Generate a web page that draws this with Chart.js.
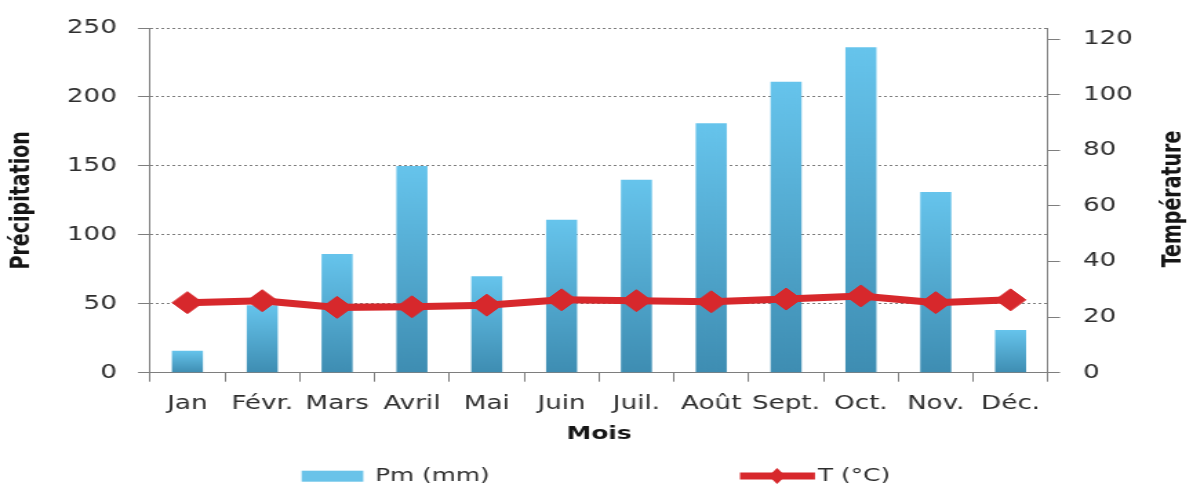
<!DOCTYPE html>
<html>
<head>
<meta charset="utf-8">
<script src="https://cdn.jsdelivr.net/npm/chart.js@4.4.1/dist/chart.umd.min.js"></script>
<style>
  html, body { margin: 0; padding: 0; background: #ffffff; overflow: hidden; }
  #wrap { position: absolute; left: 0; top: 0; width: 865px; height: 486px; transform: scaleX(1.3792); transform-origin: 0 0; }
</style>
</head>
<body>
<div id="wrap"><canvas id="c"></canvas></div>
<script>
const categories = ['Jan', 'Févr.', 'Mars', 'Avril', 'Mai', 'Juin', 'Juil.', 'Août', 'Sept.', 'Oct.', 'Nov.', 'Déc.'];
const precipitation = [16, 49, 86, 150, 70, 111, 140, 181, 211, 236, 131, 31];
const temperature = [25.2, 25.9, 23.5, 23.7, 24.3, 26.2, 25.9, 25.5, 26.5, 27.6, 25.2, 26.2];
const precipTicks = [0, 50, 100, 150, 200, 250];
const tempTicks = [0, 20, 40, 60, 80, 100, 120];
const seriesLabels = ['Pm (mm)', 'T (°C)'];
const axisTitles = { x: 'Mois', y: 'Précipitation', y1: 'Température' };

const FONT = '"DejaVu Sans", Verdana, sans-serif';
const TICK_COLOR = '#2e2e2e';
const GRID_COLOR = '#7e7e7e';
const BAR_TOP = '#66c4ec';
const BAR_BOTTOM = '#3e8db2';
const RED = '#d7282c';

function barFill(ctx) {
  const chart = ctx.chart;
  if (!chart.chartArea || ctx.type !== 'data') return BAR_TOP;
  const y = chart.scales.y;
  const top = y.getPixelForValue(ctx.raw);
  const bottom = y.getPixelForValue(0);
  if (!isFinite(top) || !isFinite(bottom) || top === bottom) return BAR_TOP;
  const g = chart.ctx.createLinearGradient(0, top, 0, bottom);
  g.addColorStop(0, BAR_TOP);
  g.addColorStop(1, BAR_BOTTOM);
  return g;
}

const extras = {
  id: 'extras',
  afterDraw(chart) {
    const c = chart.ctx;
    // right axis title (reads bottom-to-top like the left one)
    c.save();
    c.translate(851.2, 199);
    c.rotate(-Math.PI / 2);
    c.font = 'bold 19px ' + FONT;
    c.fillStyle = '#151515';
    c.textAlign = 'center';
    c.textBaseline = 'middle';
    c.fillText(axisTitles.y1, 0, 0);
    c.restore();

    // legend
    c.save();
    c.font = '18px ' + FONT;
    c.textBaseline = 'middle';
    c.textAlign = 'left';
    const ly = 476;
    c.fillStyle = '#6ac3e9';
    c.fillRect(218.7, 470.7, 44.7, 11);
    c.fillStyle = TICK_COLOR;
    c.fillText(chart.data.datasets[0].label, 271.9, ly);

    c.strokeStyle = RED;
    c.lineWidth = 7;
    c.beginPath();
    c.moveTo(536.5, ly);
    c.lineTo(590.9, ly);
    c.stroke();
    c.fillStyle = RED;
    c.beginPath();
    c.moveTo(563.4, ly - 8);
    c.lineTo(569.5, ly);
    c.lineTo(563.4, ly + 8);
    c.lineTo(557.3, ly);
    c.closePath();
    c.fill();
    c.fillStyle = TICK_COLOR;
    c.fillText(chart.data.datasets[1].label, 593.1, ly);
    c.restore();
  }
};

new Chart(document.getElementById('c'), {
  type: 'bar',
  data: {
    labels: categories,
    datasets: [
      {
        type: 'bar',
        label: seriesLabels[0],
        data: precipitation,
        yAxisID: 'y',
        backgroundColor: barFill,
        borderWidth: 0,
        categoryPercentage: 0.415,
        barPercentage: 1,
        order: 1
      },
      {
        type: 'line',
        label: seriesLabels[1],
        data: temperature,
        yAxisID: 'y1',
        borderColor: RED,
        backgroundColor: RED,
        borderWidth: 7,
        pointStyle: 'rectRot',
        pointRadius: 11,
        pointBorderWidth: 1,
        pointBackgroundColor: RED,
        pointBorderColor: RED,
        tension: 0,
        fill: false,
        order: 0
      }
    ]
  },
  options: {
    responsive: true,
    maintainAspectRatio: false,
    animation: false,
    events: [],
    layout: { padding: { top: 24, bottom: 36, left: 0, right: 0 } },
    plugins: {
      legend: { display: false },
      tooltip: { enabled: false }
    },
    scales: {
      x: {
        offset: true,
        grid: { display: true, drawOnChartArea: false, drawTicks: true, tickLength: 9, color: GRID_COLOR, offset: true },
        border: { display: true, color: GRID_COLOR, dash: [2, 2] },
        ticks: { color: TICK_COLOR, font: { family: FONT, size: 19 }, padding: 11, maxRotation: 0, autoSkip: false },
        title: { display: true, text: axisTitles.x, color: '#151515', font: { family: FONT, size: 18, weight: 'bold' }, padding: { top: 0, bottom: 5 } },
        afterFit(s) { s.height = 77.3; }
      },
      y: {
        position: 'left',
        min: 0,
        max: 250,
        afterBuildTicks(s) { s.ticks = precipTicks.map(v => ({ value: v })); },
        grid: { display: true, drawOnChartArea: true, drawTicks: true, tickLength: 8.7, color: GRID_COLOR },
        border: { display: true, color: GRID_COLOR, dash: [2, 2] },
        ticks: { color: TICK_COLOR, font: { family: FONT, size: 19 }, padding: 15.3 },
        title: { display: true, text: axisTitles.y, color: '#151515', font: { family: FONT, size: 19, weight: 'bold' }, padding: { top: 5, bottom: 0 } },
        afterFit(s) { s.width = 108.76; }
      },
      y1: {
        position: 'right',
        min: 0,
        max: 124,
        afterBuildTicks(s) { s.ticks = tempTicks.map(v => ({ value: v })); },
        grid: { display: true, drawOnChartArea: false, drawTicks: true, tickLength: 8.7, color: GRID_COLOR },
        border: { display: true, color: GRID_COLOR, dash: [2, 2] },
        ticks: { color: TICK_COLOR, font: { family: FONT, size: 19 }, padding: 16.6 },
        title: { display: false },
        afterFit(s) { s.width = 105.14; }
      }
    }
  },
  plugins: [extras]
});
</script>
</body>
</html>
